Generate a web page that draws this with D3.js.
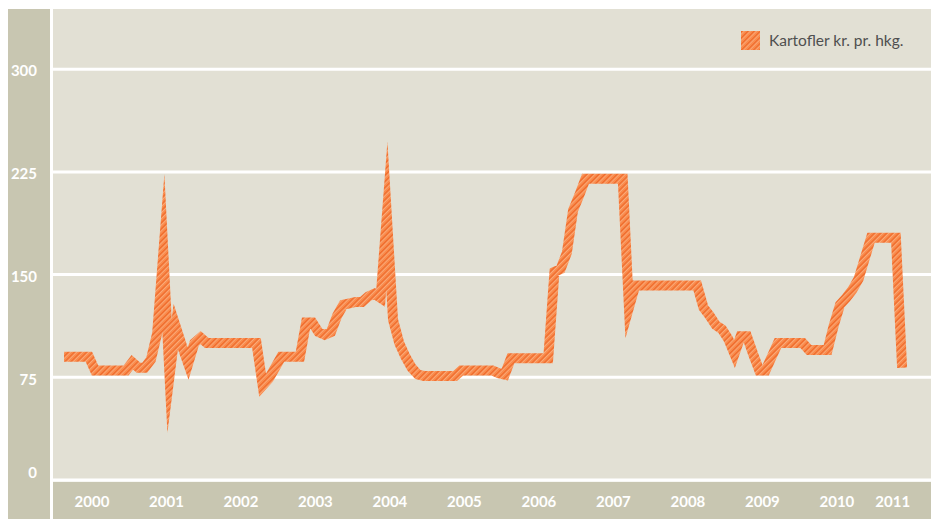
<!DOCTYPE html>
<html>
<head>
<meta charset="utf-8">
<script src="https://cdn.jsdelivr.net/npm/d3@7"></script>
<style>
  html, body { margin: 0; padding: 0; background: #ffffff; }
  svg { display: block; }
</style>
</head>
<body>
<svg id="chart" width="931" height="519"></svg>
<script>
// ---------- data ----------
const seriesName = "Kartofler kr. pr. hkg.";
const startMonth = 1; // Feb 2000 (0 = Jan 2000)
const prices = [
  // 2000 (Feb-Dec)
  90, 90, 90, 90, 90, 80, 80, 80, 80, 80, 80,
  // 2001
  86, 82, 82, 88, 107, 166, 76, 112, 98, 85, 100, 104,
  // 2002
  100, 100, 100, 100, 100, 100, 100, 100, 100, 69, 74, 82,
  // 2003
  90, 90, 90, 90, 115, 115, 108, 106, 108, 120, 128, 129,
  // 2004
  130, 130, 134, 136, 133, 193, 117, 100, 90, 82, 77, 76,
  // 2005
  76, 76, 76, 76, 76, 80, 80, 80, 80, 80, 80, 78,
  // 2006
  77, 89, 89, 89, 89, 89, 89, 89, 152, 154, 166, 197,
  // 2007
  208, 220, 220, 220, 220, 220, 220, 220, 126, 142, 142, 142,
  // 2008
  142, 142, 142, 142, 142, 142, 142, 142, 126, 120, 113, 110,
  // 2009
  103, 92, 105, 105, 92, 80, 80, 90, 100, 100, 100, 100,
  // 2010
  100, 95, 95, 95, 95, 113, 128, 133, 139, 147, 162, 177,
  // 2011 (Jan-May)
  177, 177, 177, 177, 82
];
const yTicks = [0, 75, 150, 225, 300];
const xTickLabels = ["2000","2001","2002","2003","2004","2005","2006","2007","2008","2009","2010","2011"];
const xTickMonths = [6, 18, 30, 42, 54, 66, 78, 90, 102, 114, 126, 135];

// ---------- layout ----------
const svg = d3.select("#chart");
const W = 931, H = 519;
const plotL = 53, plotR = 931, plotT = 9, plotB = 480;
const bandL = 8, bandLR = 50;

const x = d3.scaleLinear().domain([0, 144]).range([54.7, 54.7 + 144 * 6.208]);
const y = d3.scaleLinear().domain([0, 300]).range([480, 69.2]);

const defs = svg.append("defs");
const pat = defs.append("pattern")
  .attr("id", "hatch")
  .attr("patternUnits", "userSpaceOnUse")
  .attr("width", 4.3).attr("height", 4.3)
  .attr("patternTransform", "rotate(45)");
pat.append("rect").attr("width", 4.3).attr("height", 4.3).attr("fill", "#f98c4e");
pat.append("rect").attr("x", 0).attr("width", 1.6).attr("height", 4.3).attr("fill", "#f06b2b");
pat.append("rect").attr("x", 1.6).attr("width", 0.6).attr("height", 4.3).attr("fill", "#fcc49c");

// backgrounds
svg.append("rect").attr("x", bandL).attr("y", plotT).attr("width", bandLR - bandL).attr("height", H - plotT)
  .attr("fill", "#c8c6b1");
svg.append("rect").attr("x", plotL).attr("y", plotT).attr("width", plotR - plotL).attr("height", plotB - plotT)
  .attr("fill", "#e2e0d4");
svg.append("rect").attr("x", plotL).attr("y", plotB + 1.7).attr("width", plotR - plotL).attr("height", H - plotB - 1.7)
  .attr("fill", "#c8c6b1");

// grid lines
svg.append("g").selectAll("line").data(yTicks).join("line")
  .attr("x1", plotL).attr("x2", plotR)
  .attr("y1", d => y(d)).attr("y2", d => y(d))
  .attr("stroke", "#ffffff").attr("stroke-width", 3);

// y labels
svg.append("g").selectAll("text").data(yTicks).join("text")
  .attr("x", 37).attr("y", d => Math.min(y(d) + 2, 473))
  .attr("dy", "0.35em")
  .attr("text-anchor", "end")
  .attr("font-family", "Lato, 'Open Sans', sans-serif")
  .attr("font-weight", "bold")
  .attr("font-size", 15)
  .attr("fill", "#ffffff")
  .text(d => d);

// x labels
svg.append("g").selectAll("text").data(xTickLabels).join("text")
  .attr("x", (d, i) => x(xTickMonths[i]))
  .attr("y", 502)
  .attr("dy", "0.35em")
  .attr("text-anchor", "middle")
  .attr("font-family", "Lato, 'Open Sans', sans-serif")
  .attr("font-weight", "bold")
  .attr("font-size", 15)
  .attr("fill", "#ffffff")
  .text(d => d);

// line
const pts = prices.map((v, i) => [startMonth + i, v]);
const line = d3.line().x(d => x(d[0] + 0.5)).y(d => y(d[1]));
svg.append("path")
  .attr("d", line(pts))
  .attr("fill", "none")
  .attr("stroke", "url(#hatch)")
  .attr("stroke-width", 10)
  .attr("stroke-linejoin", "miter")
  .attr("stroke-miterlimit", 100)
  .attr("stroke-linecap", "butt");

// legend
const lg = svg.append("g");
lg.append("rect").attr("x", 741).attr("y", 31).attr("width", 19).attr("height", 19).attr("fill", "url(#hatch)");
lg.append("text").attr("x", 769).attr("y", 46)
  .attr("font-family", "Lato, 'Open Sans', sans-serif")
  .attr("font-size", 15.5)
  .attr("fill", "#4f4f4f")
  .text(seriesName);
</script>
</body>
</html>
